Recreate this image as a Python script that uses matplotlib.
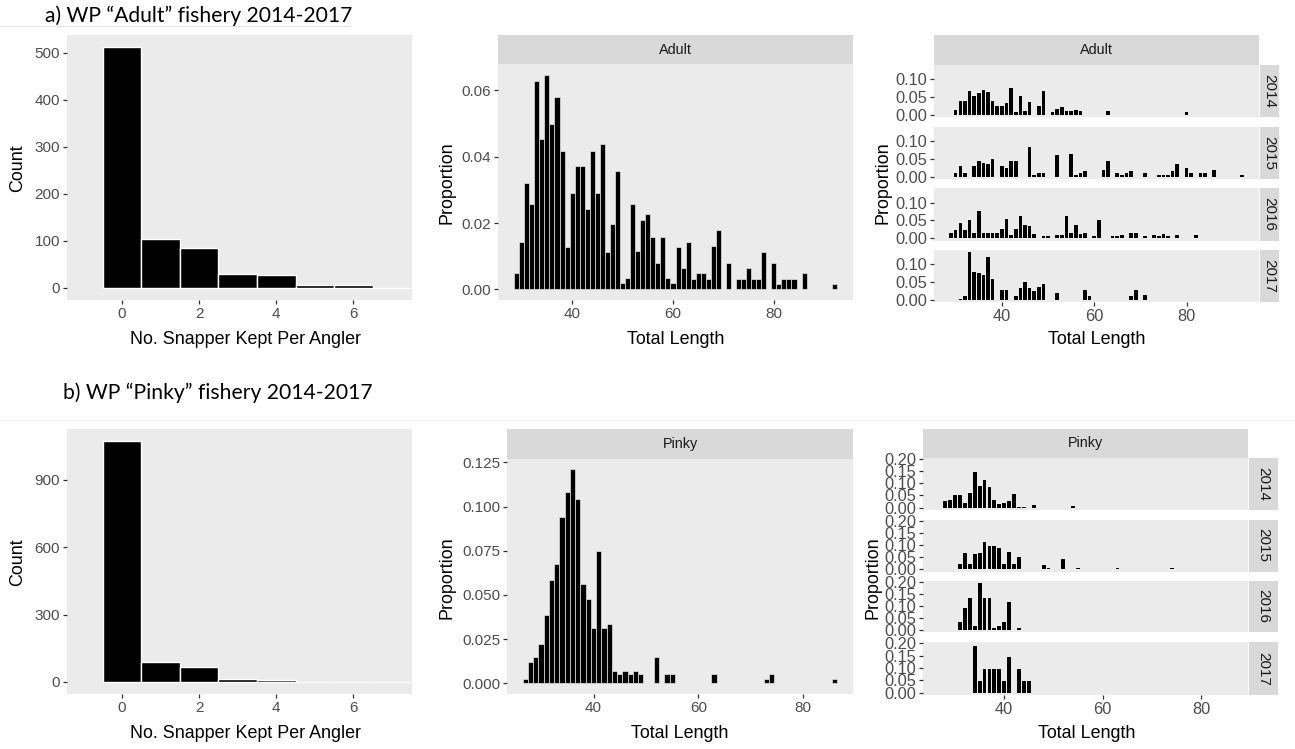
import matplotlib
matplotlib.use("Agg")
import matplotlib.pyplot as plt

W, H = 1295, 749

# ---------------- data ----------------
kept_bins = [0, 1, 2, 3, 4, 5, 6, 7]
adult_kept_count = [512, 105, 85, 30, 28, 6, 6, 0]
pinky_kept_count = [1073, 90, 65, 13, 9, 0, 0, 0]

adult_len = [29, 30, 31, 32, 33, 34, 35, 36, 37, 38, 39, 40, 41, 42, 43, 44, 45, 46,
             47, 48, 49, 50, 51, 52, 53, 54, 55, 56, 57, 58, 59, 60, 61, 62, 63, 64,
             65, 66, 67, 68, 69, 71, 73, 74, 75, 76, 77, 78, 80, 81, 82, 83, 84, 86, 92]
adult_prop = [0.0048, 0.0144, 0.0322, 0.0257, 0.0629, 0.0453, 0.0646, 0.0498, 0.0580,
              0.0418, 0.0129, 0.0292, 0.0373, 0.0373, 0.0242, 0.0418, 0.0292, 0.0438,
              0.0114, 0.0196, 0.0358, 0.0018, 0.0033, 0.0257, 0.0116, 0.0209, 0.0227,
              0.0159, 0.0079, 0.0159, 0.0033, 0.0018, 0.0129, 0.0063, 0.0144, 0.0032,
              0.0048, 0.0048, 0.0032, 0.0130, 0.0180, 0.0080, 0.0032, 0.0032, 0.0064,
              0.0032, 0.0032, 0.0113, 0.0080, 0.0016, 0.0032, 0.0032, 0.0032, 0.0048,
              0.0016]

pinky_len = [27, 28, 29, 30, 31, 32, 33, 34, 35, 36, 37, 38, 39, 40, 41, 42, 43, 44,
             45, 46, 47, 48, 49, 52, 54, 55, 63, 73, 74, 86]
pinky_prop = [0.0026, 0.0119, 0.0150, 0.0220, 0.0386, 0.0584, 0.0677, 0.0944, 0.1085,
              0.1212, 0.1044, 0.0560, 0.0477, 0.0314, 0.0749, 0.0314, 0.0337, 0.0068,
              0.0050, 0.0068, 0.0050, 0.0068, 0.0050, 0.0150, 0.0050, 0.0050, 0.0050,
              0.0025, 0.0050, 0.0025]

years = ["2014", "2015", "2016", "2017"]

adult_len_2014 = [30, 31, 32, 33, 34, 35, 36, 37, 38, 39, 40, 41, 42, 43, 44, 45, 46, 48,
                  49, 51, 52, 53, 54, 55, 56, 57, 63, 80]
adult_prop_2014 = [0.012, 0.039, 0.039, 0.066, 0.054, 0.061, 0.069, 0.064, 0.039, 0.024,
                   0.024, 0.034, 0.076, 0.008, 0.054, 0.010, 0.036, 0.025, 0.066, 0.008,
                   0.015, 0.022, 0.010, 0.010, 0.012, 0.010, 0.010, 0.008]
adult_len_2015 = [30, 31, 32, 34, 35, 36, 37, 38, 40, 41, 42, 43, 46, 47, 48, 49, 52, 55,
                  56, 57, 58, 62, 63, 65, 66, 67, 68, 71, 74, 75, 76, 77, 78, 80, 81, 83,
                  84, 86, 92]
adult_prop_2015 = [0.011, 0.030, 0.011, 0.030, 0.044, 0.039, 0.035, 0.051, 0.030, 0.025,
                   0.044, 0.044, 0.085, 0.005, 0.011, 0.011, 0.061, 0.065, 0.005, 0.011,
                   0.016, 0.020, 0.045, 0.011, 0.005, 0.011, 0.016, 0.010, 0.005, 0.005,
                   0.005, 0.015, 0.035, 0.025, 0.010, 0.010, 0.010, 0.020, 0.005]
adult_len_2016 = [29, 30, 31, 32, 33, 34, 35, 36, 37, 38, 39, 40, 41, 42, 43, 44, 45, 46,
                  47, 49, 50, 52, 53, 54, 55, 56, 57, 58, 60, 61, 64, 65, 66, 68, 69, 71,
                  73, 74, 75, 76, 78, 82]
adult_prop_2016 = [0.015, 0.022, 0.042, 0.022, 0.050, 0.015, 0.076, 0.015, 0.015, 0.015,
                   0.015, 0.026, 0.054, 0.010, 0.026, 0.062, 0.036, 0.034, 0.013, 0.006,
                   0.006, 0.010, 0.010, 0.062, 0.015, 0.036, 0.013, 0.015, 0.006, 0.050,
                   0.006, 0.006, 0.008, 0.015, 0.015, 0.005, 0.008, 0.006, 0.012, 0.006,
                   0.008, 0.008]
adult_len_2017 = [31, 32, 33, 34, 35, 36, 37, 38, 40, 41, 43, 44, 45, 46, 47, 48, 49, 52,
                  58, 59, 68, 69, 71]
adult_prop_2017 = [0.003, 0.011, 0.135, 0.079, 0.075, 0.070, 0.120, 0.057, 0.027, 0.027,
                   0.011, 0.033, 0.050, 0.033, 0.025, 0.037, 0.043, 0.020, 0.027, 0.011,
                   0.011, 0.027, 0.013]

pinky_len_2014 = [28, 29, 30, 31, 32, 33, 34, 35, 36, 37, 38, 39, 40, 41, 42, 43, 44, 46, 54]
pinky_prop_2014 = [0.029, 0.033, 0.050, 0.050, 0.021, 0.060, 0.147, 0.089, 0.114, 0.083,
                   0.033, 0.014, 0.021, 0.029, 0.057, 0.004, 0.004, 0.011, 0.007]
pinky_len_2015 = [31, 32, 33, 34, 35, 36, 37, 38, 39, 40, 41, 42, 43, 48, 49, 52, 55, 63, 74]
pinky_prop_2015 = [0.023, 0.066, 0.023, 0.061, 0.066, 0.111, 0.094, 0.094, 0.086, 0.023,
                   0.071, 0.023, 0.050, 0.016, 0.004, 0.040, 0.004, 0.004, 0.004]
pinky_len_2016 = [31, 32, 33, 34, 35, 36, 37, 38, 39, 40, 41, 43]
pinky_prop_2016 = [0.033, 0.089, 0.134, 0.017, 0.196, 0.134, 0.134, 0.006, 0.017, 0.030,
                   0.114, 0.008]
pinky_len_2017 = [34, 35, 36, 37, 38, 39, 40, 41, 43, 44, 45]
pinky_prop_2017 = [0.190, 0.048, 0.095, 0.095, 0.095, 0.095, 0.048, 0.143, 0.095, 0.048,
                   0.048]

adult_years_len = [adult_len_2014, adult_len_2015, adult_len_2016, adult_len_2017]
adult_years_prop = [adult_prop_2014, adult_prop_2015, adult_prop_2016, adult_prop_2017]
pinky_years_len = [pinky_len_2014, pinky_len_2015, pinky_len_2016, pinky_len_2017]
pinky_years_prop = [pinky_prop_2014, pinky_prop_2015, pinky_prop_2016, pinky_prop_2017]

# ---------------- styling ----------------
PANEL = "#EBEBEB"
STRIP = "#D9D9D9"
TICKC = "#333333"
TXT = "#4D4D4D"
SANS = ["Liberation Sans", "DejaVu Sans"]
TICK_FS = 11
FACET_TICK_FS = 11.8
TITLE_FS = 12.9
STRIP_FS = 10.4

plt.rcParams["font.family"] = SANS

fig = plt.figure(figsize=(W / 100, H / 100), dpi=100)
fig.patch.set_facecolor("white")


def px_axes(left, top, right, bottom, **kw):
    return fig.add_axes([left / W, 1 - bottom / H, (right - left) / W, (bottom - top) / H], **kw)


def gg(ax, fs=TICK_FS):
    ax.set_facecolor(PANEL)
    for s in ax.spines.values():
        s.set_visible(False)
    ax.tick_params(length=3, width=0.9, color=TICKC, labelcolor=TXT,
                   labelsize=fs, pad=2)


def strip_top(left, top, right, bottom, label):
    s = px_axes(left, top, right, bottom)
    s.set_facecolor(STRIP)
    s.set_xticks([]); s.set_yticks([])
    for sp in s.spines.values():
        sp.set_visible(False)
    s.text(0.5, 0.5, label, ha="center", va="center", fontsize=STRIP_FS,
           color="#1A1A1A", transform=s.transAxes)


def strip_right(left, top, right, bottom, label):
    s = px_axes(left, top, right, bottom)
    s.set_facecolor(STRIP)
    s.set_xticks([]); s.set_yticks([])
    for sp in s.spines.values():
        sp.set_visible(False)
    s.text(0.5, 0.5, label, ha="center", va="center", fontsize=11,
           color="#1A1A1A", rotation=-90, transform=s.transAxes)


def fig_text(x, y, s, **kw):
    fig.text(x / W, 1 - y / H, s, **kw)


def expand(lo, hi, f=0.05):
    d = (hi - lo) * f
    return lo - d, hi + d


# ---------------- count histograms ----------------
def count_panel(top, bottom, counts, yticks):
    ax = px_axes(67, top, 412, bottom)
    gg(ax)
    ax.bar(kept_bins, counts, width=1, color="black", edgecolor="white", linewidth=1.0)
    ax.set_xlim(-1.43, 7.52)
    ax.set_ylim(*expand(0, max(counts)))
    ax.set_xticks([0, 2, 4, 6])
    ax.set_yticks(yticks)
    return ax


count_panel(35, 300, adult_kept_count, [0, 100, 200, 300, 400, 500])
count_panel(429, 694, pinky_kept_count, [0, 300, 600, 900])

# ---------------- overall length distributions ----------------
def length_panel(left, top, bottom, lens, props, yticks, fmt, label):
    strip_top(left, top, 853, top + 29.5, label)
    ax = px_axes(left, top + 29.5, 853, bottom)
    gg(ax)
    ax.bar(lens, props, width=1, color="black", edgecolor="#F2F2F2", linewidth=0.45)
    ax.set_xlim(*expand(min(lens) - 0.5, max(lens) + 0.5))
    ax.set_ylim(*expand(0, max(props)))
    ax.set_xticks([40, 60, 80])
    ax.set_yticks(yticks)
    ax.set_yticklabels([fmt.format(v) for v in yticks])
    return ax


length_panel(498, 35, 300, adult_len, adult_prop, [0, 0.02, 0.04, 0.06], "{:.2f}", "Adult")
length_panel(507, 429, 694, pinky_len, pinky_prop,
             [0, 0.025, 0.05, 0.075, 0.1, 0.125], "{:.3f}", "Pinky")

# ---------------- per-year facets ----------------
def year_facets(left, right, strip_r, top, strip_h, panels, lens_all, props_all,
                lens_list, props_list, yticks, label):
    strip_top(left, top, right, top + strip_h, label)
    xl = expand(min(lens_all) - 0.5, max(lens_all) + 0.5)
    ymax = max(max(p) for p in props_list)
    for (pt, pb), yr, lens, props in zip(panels, years, lens_list, props_list):
        ax = px_axes(left, pt, right, pb)
        gg(ax, FACET_TICK_FS)
        ax.bar(lens, props, width=0.78, color="black", linewidth=0)
        ax.set_xlim(*xl)
        ax.set_ylim(*expand(0, ymax))
        ax.set_yticks(yticks)
        ax.set_yticklabels(["{:.2f}".format(v) for v in yticks])
        ax.set_xticks([40, 60, 80])
        if yr != years[-1]:
            ax.tick_params(axis="x", length=0, labelbottom=False)
        strip_right(right + 1, pt, strip_r, pb, yr)


year_facets(934, 1259, 1279, 35, 29.5,
            [(64.5, 117), (126.5, 179), (188, 240.5), (249.5, 302)],
            adult_len, adult_prop, adult_years_len, adult_years_prop,
            [0, 0.05, 0.10], "Adult")
year_facets(923, 1248, 1278, 428.5, 29,
            [(457.5, 510), (519.5, 571.5), (580.5, 632), (642, 695)],
            pinky_len, pinky_prop, pinky_years_len, pinky_years_prop,
            [0, 0.05, 0.10, 0.15, 0.20], "Pinky")

# ---------------- axis titles ----------------
for y_mid, x_lab_y in [(168, 340), (562, 733)]:
    fig_text(18, y_mid, "Count", rotation=90, ha="center", va="center",
             fontsize=TITLE_FS, color="black")
    fig_text(246, x_lab_y, "No. Snapper Kept Per Angler", ha="center", va="center",
             fontsize=TITLE_FS, color="black")

for x, y in [(447, 183), (447, 578), (883, 183), (873, 578)]:
    fig_text(x, y, "Proportion", rotation=90, ha="center", va="center",
             fontsize=TITLE_FS, color="black")
for x, y in [(676, 340), (680, 733), (1097, 340), (1087, 733)]:
    fig_text(x, y, "Total Length", ha="center", va="center",
             fontsize=TITLE_FS, color="black")

# ---------------- section headings ----------------
HEAD = ["Lato", "DejaVu Sans"]
fig_text(45, 16, "a) WP \u201cAdult\u201d fishery 2014-2017", ha="left", va="center",
         fontsize=15.2, color="black", family=HEAD)
fig_text(63, 393, "b) WP \u201cPinky\u201d fishery 2014-2017", ha="left", va="center",
         fontsize=15.2, color="black", family=HEAD)

# faint rules under the headings
fig.add_artist(plt.Line2D([0, 350 / W], [1 - 26 / H, 1 - 26 / H], color="#E3E3E3", lw=0.8))
fig.add_artist(plt.Line2D([0, 1], [1 - 420 / H, 1 - 420 / H], color="#F0F0F0", lw=0.8))

fig.savefig("out.png", dpi=100, facecolor="white")
